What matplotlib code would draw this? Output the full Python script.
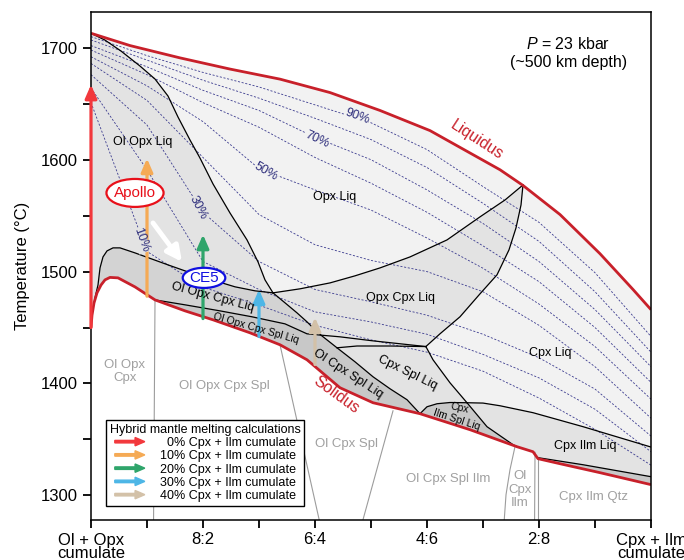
import numpy as np
import matplotlib
matplotlib.use('Agg')
import matplotlib.pyplot as plt
import matplotlib.patches as mpatches
from matplotlib.legend_handler import HandlerPatch
from matplotlib.ticker import MultipleLocator

plt.rcParams['font.family'] = ['Liberation Sans', 'DejaVu Sans']
plt.rcParams['mathtext.fontset'] = 'custom'
plt.rcParams['mathtext.it'] = 'Liberation Sans:italic'
plt.rcParams['mathtext.rm'] = 'Liberation Sans'

# x = fraction of Cpx+Ilm cumulate in the hybrid, T in degC
# liquidus / solidus
liq_x = [0, 0.0696, 0.1589, 0.2482, 0.3375, 0.4268, 0.5161, 0.6054, 0.6768, 0.7304, 0.7714, 0.8375, 0.9089, 0.9679, 1.0]
liq_T = [1713, 1702, 1691, 1681, 1672, 1660, 1644, 1626, 1606, 1591, 1577, 1551, 1516, 1484, 1466]
sol_x = [0, 0.0018, 0.0054, 0.0107, 0.0179, 0.025, 0.0339, 0.0482, 0.0786, 0.1143, 0.1679, 0.2179, 0.2839,
         0.3375, 0.3857, 0.4446, 0.5036, 0.5875, 0.6768, 0.7607, 0.7893, 0.7982, 0.8375, 0.9089, 1.0]
sol_T = [1450, 1461, 1472, 1481, 1488, 1492.6, 1494.8, 1494.4, 1486.3, 1474.7, 1464.9, 1456.9, 1445.3,
         1434.6, 1421.2, 1396.2, 1382.8, 1373.0, 1358.7, 1343.5, 1339.0, 1332.8, 1328.3, 1320.3, 1309.6]

# phase boundaries
cu_x = [0, 0.025, 0.0536, 0.0875, 0.1143, 0.1375, 0.1554, 0.1768, 0.1946, 0.2179, 0.2482, 0.2786, 0.2982, 0.3107, 0.325]
cu_T = [1713, 1706.9, 1697.1, 1683.7, 1672.1, 1656.9, 1638.1, 1617.6, 1601.5, 1578.3, 1552.4, 1528.3, 1508.7, 1492.6, 1481.0]
cl_x = [0.325, 0.3464, 0.3679, 0.3857, 0.4036, 0.4107, 0.4393, 0.4714, 0.5036, 0.5339, 0.5643, 0.5875]
cl_T = [1481.0, 1472.1, 1463.1, 1455.1, 1446.2, 1443.2, 1431.9, 1419.4, 1406.0, 1395.3, 1385.5, 1373.0]
d1_x = [0.0071, 0.0125, 0.0161, 0.0214, 0.0286, 0.0393, 0.0518, 0.0786, 0.1375, 0.1982, 0.2571, 0.2929, 0.325]
d1_T = [1476.5, 1488.1, 1503.3, 1513.1, 1518.5, 1521.2, 1521.2, 1516.7, 1506.0, 1495.3, 1486.4, 1482.8, 1481.0]
l1_x = [0.1143, 0.1679, 0.2304, 0.2875, 0.3464, 0.3857, 0.4107, 0.4446, 0.5036, 0.5518, 0.598]
l1_T = [1474.7, 1470.3, 1464.9, 1459.6, 1453.3, 1444.4, 1443.2, 1441.7, 1438.1, 1435.5, 1433.0]
l2_x = [0.4393, 0.475, 0.5339, 0.598]
l2_T = [1431.9, 1433.5, 1433.5, 1433.0]
b1_x = [0.325, 0.3732, 0.4268, 0.4714, 0.5161, 0.5696, 0.6357, 0.6946, 0.7393, 0.7714]
b1_T = [1481.0, 1484.6, 1489.9, 1496.2, 1503.3, 1513.1, 1528.3, 1548.9, 1564.0, 1577.4]
b2_x = [0.7714, 0.7679, 0.7589, 0.7464, 0.725, 0.6946, 0.6589, 0.6232, 0.598]
b2_T = [1577.4, 1559.6, 1539.0, 1519.4, 1497.1, 1480.1, 1459.6, 1444.4, 1433.0]
b3_x = [0.598, 0.6107, 0.6411, 0.6714, 0.7071, 0.7536, 0.7607]
b3_T = [1433.0, 1421.2, 1400.6, 1382.8, 1361.4, 1345.3, 1343.5]
lens_x = [0.5875, 0.6, 0.6179, 0.6411, 0.6714]
lens_T = [1373.0, 1379.2, 1381.9, 1383.0, 1382.8]
b5_x = [0.6714, 0.7, 0.7304, 0.7893, 0.8786, 1.0]
b5_T = [1382.8, 1382.5, 1380.1, 1373.9, 1361.4, 1343.2]
b6_x = [0.7982, 0.8786, 1.0]
b6_T = [1333.7, 1327.4, 1316.7]

# subsolidus boundaries (grey)
sub_lines = [
    ([0.1143, 0.1116], [1474.7, 1270]),
    ([0.3375, 0.4089], [1434.6, 1275]),
    ([0.5393, 0.4839], [1375.6, 1275]),
    ([0.7571, 0.7482, 0.7411, 0.7375], [1343.5, 1323.0, 1300.6, 1275]),
    ([0.7929, 0.7920], [1338.5, 1270]),
    ([0.7982, 0.7982], [1332.8, 1270]),
]

# melt fraction isopleths
iso_x = [0, 0.1, 0.2, 0.3, 0.4, 0.5, 0.6, 0.7, 0.8, 0.9, 1.0]
iso90 = [1710, 1693, 1678, 1665, 1649, 1633, 1609, 1576, 1544, 1499, 1442]
iso80 = [1707, 1689, 1671, 1655, 1637, 1618, 1593, 1561, 1527, 1482, 1428]
iso70 = [1702, 1683, 1662, 1644, 1620, 1600, 1573, 1543, 1509, 1466, 1415]
iso60 = [1698, 1676, 1651, 1629, 1602, 1579, 1553, 1523, 1491, 1450, 1401]
iso50 = [1692, 1666, 1634, 1592, 1573, 1555, 1530, 1503, 1471, 1433, 1386]
iso40 = [1686, 1653, 1602, 1551, 1524, 1510, 1500, 1482, 1452, 1415, 1369]
iso30 = [1676, 1631, 1553, 1509, 1484, 1473, 1461, 1444, 1423, 1395, 1353]
iso20 = [1664, 1591, 1509, 1484, 1464, 1455, 1444, 1426, 1405, 1377, 1339]
iso10 = [1651, 1518, 1486, 1470, 1452, 1439, 1428, 1411, 1387, 1359, 1327]
iso_all = [iso10, iso20, iso30, iso40, iso50, iso60, iso70, iso80, iso90]

# hybrid melting paths
arr_x = [0, 0.1, 0.2, 0.3, 0.4]
arr_T0 = [1450, 1478, 1458, 1442, 1417]
arr_T1 = [1667, 1601, 1533, 1484, 1459]
arr_col = ['#f2383c', '#f5aa55', '#2fa56b', '#4db6e6', '#d3c1a8']
arr_lab = ['  0% Cpx + Ilm cumulate', '10% Cpx + Ilm cumulate', '20% Cpx + Ilm cumulate',
           '30% Cpx + Ilm cumulate', '40% Cpx + Ilm cumulate']

light = '#f2f2f2'
mid = '#e3e3e3'
dark = '#d3d3d3'
darker = '#c8c8c8'


def pts(xs, ts):
    return list(zip(xs, ts))


sol = pts(sol_x, sol_T)
liq = pts(liq_x, liq_T)
cu = pts(cu_x, cu_T)
cl = pts(cl_x, cl_T)
d1 = pts(d1_x, d1_T)
l1 = pts(l1_x, l1_T)
l2 = pts(l2_x, l2_T)
b1 = pts(b1_x, b1_T)
b2 = pts(b2_x, b2_T)
b3 = pts(b3_x, b3_T)
lens = pts(lens_x, lens_T)
b5 = pts(b5_x, b5_T)
b6 = pts(b6_x, b6_T)

fig = plt.figure(figsize=(6.84, 5.6), dpi=100)
ax = fig.add_axes([91 / 684, 40 / 560, 560 / 684, 508 / 560])

# fills
melt = mpatches.Polygon(liq + sol[::-1], closed=True, fc=light, ec='none', zorder=1)
ax.add_patch(melt)
polys = [
    (cu + d1[::-1] + sol[2::-1], mid),
    (d1 + cl[1:6] + l1[5::-1] + sol[8:2:-1], dark),
    (l1[:7] + cl[6:] + sol[16:9:-1], darker),
    (b1 + b2[1:] + l1[9:5:-1] + cl[4:0:-1], mid),
    (l1[6:] + b3[1:] + sol[18:16:-1] + cl[10:5:-1], mid),
    (lens + b3[4:] + sol[18:17:-1], darker),
    (b5 + b6[::-1] + sol[20:18:-1] + b3[5:3:-1], mid),
    (b6 + sol[24:20:-1], darker),
]
for p, c in polys:
    ax.add_patch(mpatches.Polygon(p, closed=True, fc=c, ec='none', zorder=1.2))

# isopleths
for t in iso_all:
    ln, = ax.plot(iso_x, t, color='#3b3b8f', lw=0.6, ls=(0, (2.5, 2)), zorder=2)
    ln.set_clip_path(melt)

# boundaries
for xs, ts in [(cu_x, cu_T), (cl_x, cl_T), (d1_x, d1_T), (l1_x, l1_T), (l2_x, l2_T), (b1_x, b1_T),
               (b2_x, b2_T), (b3_x, b3_T), (lens_x, lens_T), (b5_x, b5_T), (b6_x, b6_T)]:
    ax.plot(xs, ts, color='black', lw=0.9, zorder=3)
for xs, ts in sub_lines:
    ax.plot(xs, ts, color='#9c9c9c', lw=0.8, zorder=3)
ax.plot(liq_x, liq_T, color='#c8202a', lw=2, zorder=4, solid_capstyle='butt')
ax.plot(sol_x, sol_T, color='#c8202a', lw=2, zorder=4, solid_capstyle='butt')

# arrows
for x, t0, t1, c in zip(arr_x, arr_T0, arr_T1, arr_col):
    ax.annotate('', xy=(x, t1), xytext=(x, t0),
                arrowprops=dict(arrowstyle='-|>,head_width=0.35,head_length=0.8', color=c, lw=2.3,
                                shrinkA=0, shrinkB=0), zorder=5, annotation_clip=False)
ax.annotate('', xy=(0.1625, 1508.7), xytext=(0.1107, 1543.5),
            arrowprops=dict(arrowstyle='-|>,head_width=0.45,head_length=0.9', color='white', lw=3.5,
                            shrinkA=0, shrinkB=0), zorder=5)

# isopleth labels
iso_lab = [('10%', 0.0893, 1528, -70, mid), ('30%', 0.191, 1557, -62, mid), ('50%', 0.3125, 1589, -30, light),
           ('70%', 0.4036, 1618, -25, light), ('90%', 0.475, 1639, -20, light)]
for s, x, t, r, c in iso_lab:
    ax.text(x, t, s, rotation=r, ha='center', va='center', fontsize=9, color='#2b2b7a', zorder=6,
            rotation_mode='anchor', bbox=dict(fc=c, ec='none', pad=0.3))

# field labels
fields = [('Ol Opx Liq', 0.0929, 1616, 0, 9), ('Opx Liq', 0.4357, 1567, 0, 9), ('Opx Cpx Liq', 0.5518, 1476.5, 0, 9),
          ('Ol Opx Cpx Liq', 0.217, 1477, -15, 9), ('Ol Opx Cpx Spl Liq', 0.294, 1449, -16, 7.5),
          ('Ol Cpx Spl Liq', 0.4589, 1408.7, -33, 9), ('Cpx Spl Liq', 0.5643, 1409.6, -26, 9),
          ('Cpx Liq', 0.8196, 1427.4, 0, 9), ('Cpx', 0.6589, 1378.3, -12, 7.5),
          ('Ilm Spl Liq', 0.6536, 1367.6, -18, 7.5), ('Cpx Ilm Liq', 0.8821, 1344.4, 0, 9)]
for s, x, t, r, f in fields:
    ax.text(x, t, s, rotation=r, ha='center', va='center', fontsize=f, color='black', zorder=6,
            rotation_mode='anchor')
subs = [('Ol Opx\nCpx', 0.0607, 1411), ('Ol Opx Cpx Spl', 0.2375, 1398), ('Ol Cpx Spl', 0.4554, 1346),
        ('Ol Cpx Spl Ilm', 0.6375, 1315), ('Ol\nCpx\nIlm', 0.7661, 1305), ('Cpx Ilm Qtz', 0.8982, 1299)]
for s, x, t in subs:
    ax.text(x, t, s, ha='center', va='center', fontsize=9.5, color='#a0a0a0', zorder=6, linespacing=1.15)

ax.text(0.6893, 1617.6, 'Liquidus', rotation=-33, ha='center', va='center', fontsize=11.5, color='#c8202a',
        rotation_mode='anchor', zorder=6)
ax.text(0.4375, 1390, 'Solidus', rotation=-36, ha='center', va='center', fontsize=11.5, color='#c8202a',
        rotation_mode='anchor', zorder=6)

# sample ellipses
ax.add_patch(mpatches.Ellipse((0.0786, 1570.3), 0.102, 25, fc='white', ec='#e8101a', lw=1.6, zorder=6.5))
ax.text(0.0786, 1570.0, 'Apollo', ha='center', va='center', fontsize=11, color='#e8101a', zorder=7)
ax.add_patch(mpatches.Ellipse((0.2018, 1494.4), 0.076, 18, fc='white', ec='#1010e0', lw=1.6, zorder=6.5))
ax.text(0.2018, 1494.1, 'CE5', ha='center', va='center', fontsize=11, color='#1010e0', zorder=7)

ax.text(0.852, 0.92, '$P$ = 23 kbar\n(~500 km depth)', transform=ax.transAxes, ha='center', va='center',
        fontsize=11.5, linespacing=1.25, zorder=7)


# legend with arrow keys
class ArrowHandler(HandlerPatch):
    def create_artists(self, legend, orig_handle, xdescent, ydescent, width, height, fontsize, trans):
        a = mpatches.FancyArrow(-xdescent, height / 2 - ydescent, width, 0, width=1.8, head_width=6,
                                head_length=7, length_includes_head=True, color=orig_handle.get_facecolor(),
                                transform=trans)
        return [a]


handles = [mpatches.Patch(color=c, label=l) for c, l in zip(arr_col, arr_lab)]
leg = ax.legend(handles=handles, loc='lower left', bbox_to_anchor=(0.027, 0.028), borderaxespad=0,
                handler_map={mpatches.Patch: ArrowHandler()}, title='Hybrid mantle melting calculations',
                fontsize=9, title_fontsize=9, fancybox=False, edgecolor='black', framealpha=1,
                handlelength=2.4, handletextpad=1.2, labelspacing=0.1, borderpad=0.3)
leg.get_frame().set_linewidth(1.0)
leg.set_zorder(8)

# axes
ax.set_xlim(0, 1)
ax.set_ylim(1278, 1732)
ax.set_xticks([0, 0.2, 0.4, 0.6, 0.8, 1.0])
ax.set_xticklabels(['Ol + Opx\ncumulate', '8:2', '6:4', '4:6', '2:8', 'Cpx + Ilm\ncumulate'], linespacing=0.9)
ax.xaxis.set_minor_locator(MultipleLocator(0.1))
ax.yaxis.set_major_locator(MultipleLocator(100))
ax.yaxis.set_minor_locator(MultipleLocator(50))
ax.tick_params(which='both', direction='out', length=6, width=1.3, labelsize=12)
ax.tick_params(axis='x', pad=3)
ax.set_ylabel('Temperature (°C)', fontsize=12, labelpad=8)
for sp in ax.spines.values():
    sp.set_linewidth(1.1)
    sp.set_zorder(4.5)

plt.savefig('out.png', dpi=100)
